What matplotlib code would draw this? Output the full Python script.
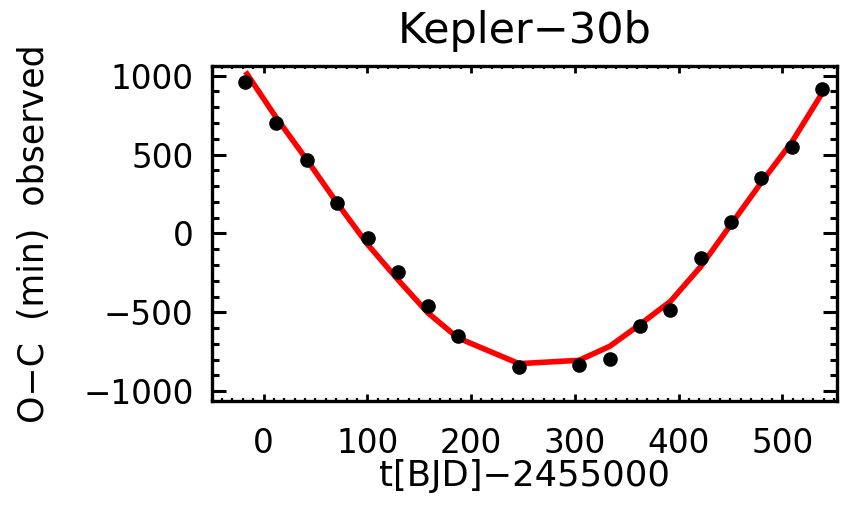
import matplotlib
matplotlib.use("Agg")
import matplotlib.pyplot as plt
from matplotlib.ticker import MultipleLocator

plt.rcParams["font.family"] = ["DejaVu Sans"]

# transit times (BJD - 2455000) and observed O-C in minutes
t_obs = [-17.4, 11.6, 41.8, 71.0, 100.6, 129.5, 158.5, 187.4, 246.2,
         304.0, 333.7, 362.6, 392.2, 421.4, 450.3, 479.3, 509.5, 538.4]
oc_obs = [958, 699, 466, 192, -29, -242, -462, -652, -848,
          -831, -795, -589, -483, -156, 70, 351, 547, 914]
# model O-C at the same epochs
oc_model = [1025, 740, 466, 192, -72, -293, -504, -662, -825,
            -804, -715, -578, -430, -210, 55, 319, 582, 889]

fig = plt.figure(figsize=(8.46, 5.23), dpi=100, facecolor="white")
ax = fig.add_axes([0.2502, 0.2338, 0.7395, 0.6406])

ax.plot(t_obs, oc_model, color="#ff0000", linewidth=4.0, zorder=2,
        solid_capstyle="butt")
ax.plot(t_obs, oc_obs, "o", color="black", markersize=9.5, zorder=3)

ax.set_xlim(-50, 553)
ax.set_ylim(-1060, 1063)

ax.xaxis.set_major_locator(MultipleLocator(100))
ax.xaxis.set_minor_locator(MultipleLocator(10))
ax.yaxis.set_major_locator(MultipleLocator(500))
ax.yaxis.set_minor_locator(MultipleLocator(100))

ax.tick_params(axis="both", which="both", direction="in", top=True, right=True,
               colors="black", labelsize=23.5)
ax.tick_params(axis="x", which="major", length=5, width=2, pad=19)
ax.tick_params(axis="x", which="minor", length=2.5, width=1.6)
ax.tick_params(axis="y", which="major", length=10, width=2.2, pad=13)
ax.tick_params(axis="y", which="minor", length=5, width=2.2)

for sp in ax.spines.values():
    sp.set_linewidth(2.4)
    sp.set_color("black")

ax.set_title("Kepler\u221230b", fontsize=31, pad=16)
ax.set_xlabel("t[BJD]\u22122455000", fontsize=25.5, labelpad=-1)
ax.set_ylabel("O\u2212C  (min)  observed", fontsize=25, labelpad=23)

fig.savefig("out.png", dpi=100, facecolor="white")
